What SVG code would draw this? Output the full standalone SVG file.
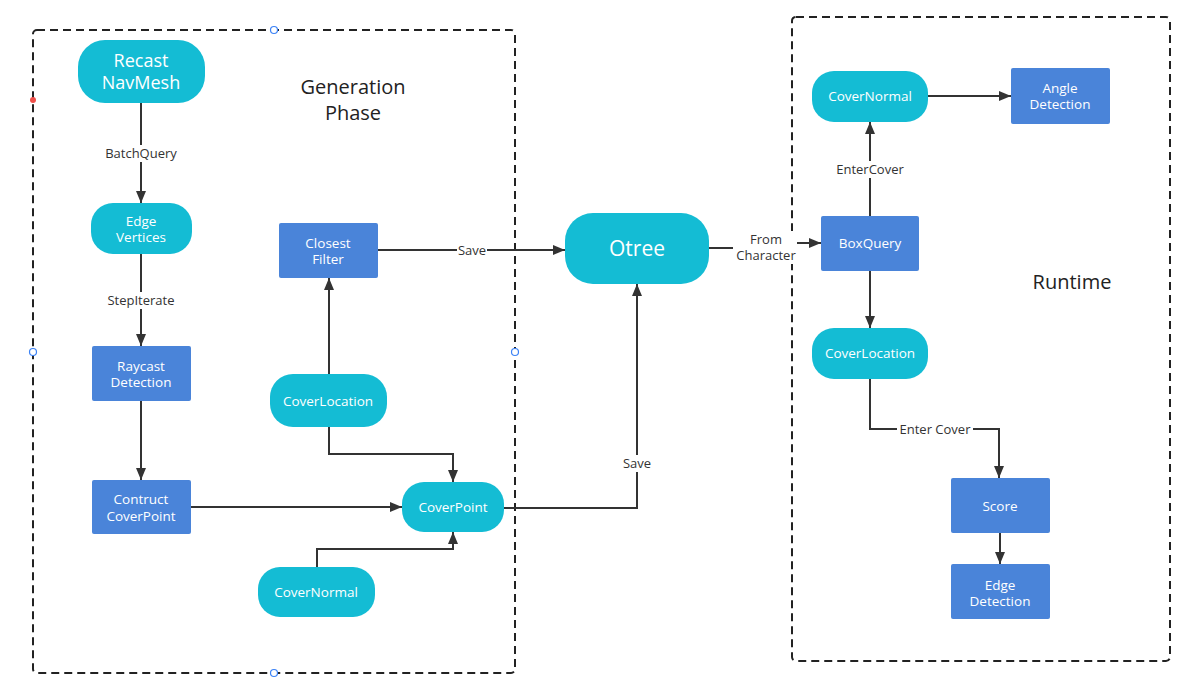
<svg xmlns="http://www.w3.org/2000/svg" width="1195" height="693" viewBox="0 0 1195 693">
<defs>
<marker id="arr" viewBox="0 0 12 10" refX="12" refY="5" markerWidth="12" markerHeight="10" markerUnits="userSpaceOnUse" orient="auto">
<path d="M0,0 L12,5 L0,10 Z" fill="#333"/>
</marker>
<style>
.teal{fill:#14BCD4;}
.blue{fill:#4A84D9;}
.nt{font-family:"Open Sans","Liberation Sans",sans-serif;font-size:13.5px;fill:#fff;text-anchor:middle;}
.big{font-size:18px;}
.ot{font-size:21px;}
.edge{fill:none;stroke:#333;stroke-width:2;}
.lbl{font-family:"Open Sans","Liberation Sans",sans-serif;font-size:13px;fill:#333;text-anchor:middle;}
.lblbg{fill:#fff;}
.frame{fill:none;stroke:#222;stroke-width:2;stroke-dasharray:8,5;}
.title{font-family:"Open Sans","Liberation Sans",sans-serif;font-size:20px;fill:#222;text-anchor:middle;}
.handle{fill:#fff;stroke:#3B82F6;stroke-width:1.2;}
</style>
</defs>
<rect width="1195" height="693" fill="#fff"/>

<g id="frames">
<rect class="frame" x="33" y="30" width="482" height="643" rx="4"/>
<rect class="frame" x="792" y="17" width="378" height="644" rx="4"/>
<text class="title" x="353" y="94">Generation</text>
<text class="title" x="353" y="120">Phase</text>
<text class="title" x="1072" y="289">Runtime</text>
</g>

<g id="connectors">
<path class="edge" d="M141,103 V203" marker-end="url(#arr)"/>
<path class="edge" d="M141,254 V346" marker-end="url(#arr)"/>
<path class="edge" d="M141,401 V480" marker-end="url(#arr)"/>
<path class="edge" d="M191,507 H402" marker-end="url(#arr)"/>
<path class="edge" d="M329,427 V454 H453 V482" marker-end="url(#arr)"/>
<path class="edge" d="M317,567 V549 H453 V532" marker-end="url(#arr)"/>
<path class="edge" d="M329,374 V278" marker-end="url(#arr)"/>
<path class="edge" d="M378,250 H565" marker-end="url(#arr)"/>
<path class="edge" d="M504,508 H637 V284" marker-end="url(#arr)"/>
<path class="edge" d="M709,248 H765 V243 H821" marker-end="url(#arr)"/>
<path class="edge" d="M870,216 V122" marker-end="url(#arr)"/>
<path class="edge" d="M870,271 V328" marker-end="url(#arr)"/>
<path class="edge" d="M928,96 H1011" marker-end="url(#arr)"/>
<path class="edge" d="M870,379 V429 H999 V478" marker-end="url(#arr)"/>
<path class="edge" d="M1000,533 V564" marker-end="url(#arr)"/>

<rect class="lblbg" x="104" y="145" width="74" height="17"/>
<text class="lbl" x="141" y="158">BatchQuery</text>
<rect class="lblbg" x="107" y="292" width="68" height="17"/>
<text class="lbl" x="141" y="305">StepIterate</text>
<rect class="lblbg" x="457" y="242" width="30" height="17"/>
<text class="lbl" x="472" y="255">Save</text>
<rect class="lblbg" x="622" y="455" width="30" height="17"/>
<text class="lbl" x="637" y="468">Save</text>
<rect class="lblbg" x="733" y="231" width="64" height="33"/>
<text class="lbl" x="766" y="244">From</text>
<text class="lbl" x="766" y="260">Character</text>
<rect class="lblbg" x="835" y="161" width="70" height="17"/>
<text class="lbl" x="870" y="174">EnterCover</text>
<rect class="lblbg" x="897" y="421" width="76" height="17"/>
<text class="lbl" x="935" y="434">Enter Cover</text>
</g>

<g id="recast-navmesh">
<rect class="teal" x="78" y="40" width="127" height="63" rx="27"/>
<text class="nt big" x="141" y="67">Recast</text>
<text class="nt big" x="141" y="89">NavMesh</text>
</g>
<g id="edge-vertices">
<rect class="teal" x="91" y="203" width="101" height="51" rx="22"/>
<text class="nt" x="141" y="226">Edge</text>
<text class="nt" x="141" y="242">Vertices</text>
</g>
<g id="raycast-detection">
<rect class="blue" x="92" y="346" width="99" height="55" rx="2"/>
<text class="nt" x="141" y="371">Raycast</text>
<text class="nt" x="141" y="387">Detection</text>
</g>
<g id="contruct-coverpoint">
<rect class="blue" x="92" y="480" width="99" height="54" rx="2"/>
<text class="nt" x="141" y="504">Contruct</text>
<text class="nt" x="141" y="521">CoverPoint</text>
</g>
<g id="closest-filter">
<rect class="blue" x="279" y="223" width="99" height="55" rx="2"/>
<text class="nt" x="328" y="248">Closest</text>
<text class="nt" x="328" y="264">Filter</text>
</g>
<g id="cover-location-gen">
<rect class="teal" x="270" y="374" width="117" height="53" rx="23"/>
<text class="nt" x="328" y="406">CoverLocation</text>
</g>
<g id="cover-point">
<rect class="teal" x="402" y="482" width="102" height="50" rx="22"/>
<text class="nt" x="453" y="512">CoverPoint</text>
</g>
<g id="cover-normal-gen">
<rect class="teal" x="258" y="567" width="117" height="50" rx="22"/>
<text class="nt" x="316" y="597">CoverNormal</text>
</g>
<g id="otree">
<rect class="teal" x="565" y="213" width="144" height="71" rx="28"/>
<text class="nt ot" x="637" y="256">Otree</text>
</g>
<g id="boxquery">
<rect class="blue" x="821" y="216" width="98" height="55" rx="2"/>
<text class="nt" x="870" y="248">BoxQuery</text>
</g>
<g id="cover-normal-rt">
<rect class="teal" x="812" y="71" width="116" height="51" rx="22"/>
<text class="nt" x="870" y="101">CoverNormal</text>
</g>
<g id="angle-detection">
<rect class="blue" x="1011" y="68" width="99" height="56" rx="2"/>
<text class="nt" x="1060" y="93">Angle</text>
<text class="nt" x="1060" y="109">Detection</text>
</g>
<g id="cover-location-rt">
<rect class="teal" x="812" y="328" width="116" height="51" rx="22"/>
<text class="nt" x="870" y="358">CoverLocation</text>
</g>
<g id="score">
<rect class="blue" x="951" y="478" width="99" height="55" rx="2"/>
<text class="nt" x="1000" y="511">Score</text>
</g>
<g id="edge-detection">
<rect class="blue" x="951" y="564" width="99" height="55" rx="2"/>
<text class="nt" x="1000" y="590">Edge</text>
<text class="nt" x="1000" y="606">Detection</text>
</g>

<g id="handles">
<circle class="handle" cx="274" cy="30" r="3.5"/>
<circle class="handle" cx="33" cy="352" r="3.5"/>
<circle class="handle" cx="515" cy="352" r="3.5"/>
<circle class="handle" cx="274" cy="673" r="3.5"/>
<circle cx="33" cy="100" r="3" fill="#F0504A"/>
</g>
</svg>
